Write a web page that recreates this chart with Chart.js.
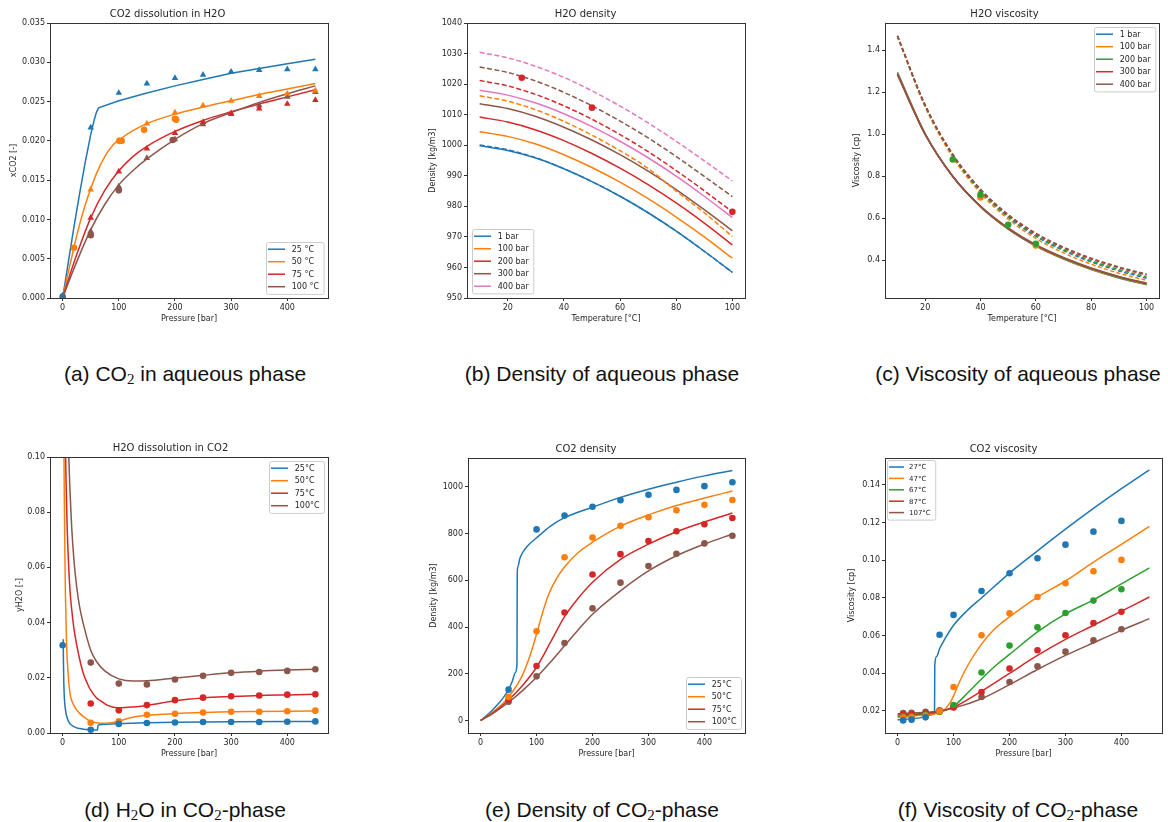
<!DOCTYPE html>
<html>
<head>
<meta charset="utf-8">
<script src="https://cdn.jsdelivr.net/npm/chart.js@4/dist/chart.umd.min.js"></script>
<style>
  html, body { margin: 0; padding: 0; background: #fff; }
  #page { position: relative; width: 1168px; height: 822px; overflow: hidden; }
  canvas { position: absolute; }
  .cap { position: absolute; transform: translate(-50%, -50%); font-family: "Liberation Sans", Arial, sans-serif;
         font-size: 21px; color: #111; white-space: nowrap; }
  .cap sub { font-family: "Liberation Serif", serif; font-size: 15px; vertical-align: -3px; line-height: 0; }
</style>
</head>
<body>
<div id="page">
  <canvas id="cA" width="327" height="320" style="left:7px;top:6px"></canvas>
  <canvas id="cB" width="325" height="320" style="left:426px;top:6px"></canvas>
  <canvas id="cC" width="315" height="320" style="left:850px;top:6px"></canvas>
  <canvas id="cD" width="321" height="321" style="left:13px;top:440px"></canvas>
  <canvas id="cE" width="324" height="320" style="left:427px;top:441px"></canvas>
  <canvas id="cF" width="322" height="320" style="left:845px;top:441px"></canvas>

  <div class="cap" style="left:185px;top:374px">(a) CO<sub>2</sub> in aqueous phase</div>
  <div class="cap" style="left:602px;top:374px">(b) Density of aqueous phase</div>
  <div class="cap" style="left:1018px;top:374px">(c) Viscosity of aqueous phase</div>
  <div class="cap" style="left:185px;top:810px">(d) H<sub>2</sub>O in CO<sub>2</sub>-phase</div>
  <div class="cap" style="left:602px;top:810px">(e) Density of CO<sub>2</sub>-phase</div>
  <div class="cap" style="left:1018px;top:810px">(f) Viscosity of CO<sub>2</sub>-phase</div>
</div>

<script>
// (a) CO2 dissolution in H2O -- [pressure, xCO2]
const aTempLabels = ['25 °C', '50 °C', '75 °C', '100 °C'];
const a25Line = [[0,0],[10,0.0045],[20,0.0090],[30,0.0132],[40,0.0172],[50,0.0208],[56,0.0226],[60,0.0236],[64,0.0242],[100,0.0251],[150,0.0261],[200,0.0270],[250,0.0278],[300,0.0286],[350,0.0292],[400,0.0298],[450,0.0304]];
const a50Line = [[0,0],[10,0.0033],[20,0.0064],[30,0.0093],[40,0.0118],[50,0.0139],[60,0.0158],[75,0.0180],[90,0.0195],[100,0.0201],[125,0.0213],[150,0.0222],[200,0.0234],[250,0.0243],[300,0.0251],[350,0.0259],[400,0.0266],[450,0.0273]];
const a75Line = [[0,0],[10,0.0023],[25,0.0055],[50,0.0102],[75,0.0137],[100,0.0162],[125,0.0180],[150,0.0193],[200,0.0212],[250,0.0226],[300,0.0237],[350,0.0247],[400,0.0256],[450,0.0265]];
const a100Line = [[0,0],[10,0.0019],[25,0.0046],[50,0.0087],[75,0.0119],[100,0.0144],[125,0.0162],[150,0.0177],[200,0.0202],[250,0.0222],[300,0.0236],[350,0.0249],[400,0.0260],[450,0.0270]];
const a25Tri = [[0,0.0003],[50,0.0217],[100,0.0261],[150,0.0273],[200,0.0280],[250,0.0284],[300,0.0288],[350,0.0290],[400,0.0291],[450,0.0291]];
const a50Tri = [[50,0.0138],[100,0.0200],[150,0.0222],[200,0.0236],[250,0.0245],[300,0.0251],[350,0.0257],[400,0.0260],[450,0.0264]];
const a50Dot = [[20,0.0064],[101,0.0200],[105,0.0200],[145,0.0214],[200,0.0228],[202,0.0227]];
const a75Tri = [[50,0.0102],[100,0.0161],[150,0.0190],[200,0.0210],[250,0.0224],[300,0.0235],[350,0.0241],[400,0.0247],[450,0.0252]];
const a100Tri = [[50,0.0085],[100,0.0142],[150,0.0178],[200,0.0202],[250,0.0221],[300,0.0234],[350,0.0245],[400,0.0256],[450,0.0262]];
const a100Dot = [[0,0.0002],[50,0.0080],[100,0.0137],[196,0.0201]];

// (b) H2O density -- temperatures and densities
const bTemps = [10, 20, 30, 40, 50, 60, 70, 80, 90, 100];
const bPressLabels = ['1 bar', '100 bar', '200 bar', '300 bar', '400 bar'];
const b1Solid = [999.8, 998.3, 995.8, 992.3, 988.1, 983.3, 977.9, 971.9, 965.3, 958.4];
const b100Solid = [1004.4, 1002.9, 1000.4, 996.9, 992.7, 987.9, 982.5, 976.5, 970.0, 963.0];
const b200Solid = [1009.2, 1007.6, 1005.0, 1001.5, 997.3, 992.5, 987.1, 981.1, 974.5, 967.4];
const b300Solid = [1013.6, 1012.0, 1009.4, 1005.9, 1001.7, 996.9, 991.5, 985.5, 978.9, 972.0];
const b400Solid = [1018.0, 1016.4, 1013.8, 1010.3, 1006.1, 1001.3, 995.9, 989.9, 983.3, 976.3];
const b1Dash = [1000.1, 998.5, 995.9, 992.3, 988.1, 983.3, 977.9, 971.9, 965.3, 958.4];
const b100Dash = [1016.2, 1014.4, 1011.6, 1007.8, 1003.3, 998.2, 992.4, 985.0, 977.9, 970.1];
const b200Dash = [1021.2, 1019.4, 1016.6, 1012.9, 1008.5, 1003.5, 997.9, 991.7, 985.1, 978.2];
const b300Dash = [1025.6, 1023.8, 1021.0, 1017.3, 1012.9, 1007.9, 1002.4, 996.3, 989.8, 983.2];
const b400Dash = [1030.4, 1028.6, 1025.8, 1022.2, 1017.8, 1012.8, 1007.3, 1001.3, 994.9, 988.3];
const bDots = [[25,1022.1],[50,1012.3],[100,978.2]];

// (c) H2O viscosity -- same temperatures
const c1Solid = [1.295, 1.003, 0.798, 0.654, 0.548, 0.467, 0.405, 0.355, 0.315, 0.283];
const c100Solid = [1.292, 1.002, 0.798, 0.655, 0.549, 0.469, 0.407, 0.357, 0.317, 0.285];
const c200Solid = [1.289, 1.001, 0.799, 0.656, 0.551, 0.471, 0.409, 0.359, 0.319, 0.287];
const c300Solid = [1.286, 1.000, 0.799, 0.657, 0.552, 0.472, 0.411, 0.361, 0.321, 0.289];
const c400Solid = [1.283, 0.999, 0.800, 0.658, 0.554, 0.474, 0.413, 0.363, 0.323, 0.291];
const c1Dash = [1.468, 1.135, 0.897, 0.728, 0.605, 0.514, 0.446, 0.392, 0.349, 0.314];
const c100Dash = [1.466, 1.130, 0.890, 0.720, 0.596, 0.504, 0.435, 0.381, 0.338, 0.304];
const c200Dash = [1.467, 1.136, 0.899, 0.731, 0.609, 0.519, 0.451, 0.398, 0.356, 0.321];
const c300Dash = [1.468, 1.139, 0.903, 0.736, 0.615, 0.526, 0.458, 0.406, 0.364, 0.330];
const c400Dash = [1.469, 1.140, 0.905, 0.739, 0.618, 0.529, 0.462, 0.410, 0.368, 0.334];
const cGreenDots = [[30,0.880],[40,0.712],[50,0.569],[60,0.478]];
const cOrangeDots = [[40,0.699],[60,0.470]];

// (d) H2O dissolution in CO2 -- [pressure, yH2O]
const dTempLabels = ['25°C', '50°C', '75°C', '100°C'];
const d25Line = [[1,0.034],[1.5,0.025],[2,0.019],[3,0.013],[5,0.0085],[8,0.0055],[12,0.0037],[20,0.0023],[30,0.0016],[40,0.0013],[50,0.0011],[62,0.0011],[63,0.0028],[70,0.0031],[100,0.0034],[150,0.0037],[200,0.0039],[300,0.0041],[450,0.0042]];
const d50Line = [[2.4,0.10],[3,0.085],[4,0.065],[5,0.050],[7,0.032],[10,0.021],[13,0.0145],[20,0.0100],[30,0.0072],[40,0.0055],[50,0.0043],[60,0.0037],[75,0.0035],[90,0.0038],[100,0.0043],[125,0.0057],[150,0.0064],[200,0.0070],[250,0.0074],[300,0.0077],[350,0.0078],[400,0.0079],[450,0.0080]];
const d75Line = [[5.3,0.10],[6,0.092],[8,0.075],[10,0.064],[13,0.052],[16,0.045],[20,0.038],[25,0.032],[30,0.027],[37,0.0215],[45,0.0175],[50,0.0155],[60,0.0128],[66,0.0119],[80,0.0100],[100,0.0091],[125,0.0094],[150,0.0100],[200,0.0117],[250,0.0127],[300,0.0132],[350,0.0136],[400,0.0138],[450,0.0140]];
const d100Line = [[11,0.10],[13,0.088],[16,0.075],[20,0.063],[25,0.053],[30,0.046],[40,0.037],[50,0.030],[60,0.026],[75,0.0225],[100,0.0196],[125,0.0188],[150,0.0189],[200,0.0199],[250,0.0209],[300,0.0218],[350,0.0224],[400,0.0228],[450,0.0231]];
const d25Dots = [[0,0.0318],[50,0.0012],[100,0.0033],[150,0.0036],[200,0.0038],[250,0.0040],[300,0.0040],[350,0.0040],[400,0.0041],[450,0.0042]];
const d50Dots = [[50,0.0037],[100,0.0042],[150,0.0066],[200,0.0070],[250,0.0074],[300,0.0077],[350,0.0077],[400,0.0079],[450,0.0081]];
const d75Dots = [[50,0.0107],[100,0.0082],[150,0.0101],[200,0.0119],[250,0.0128],[300,0.0133],[350,0.0136],[400,0.0139],[450,0.0140]];
const d100Dots = [[50,0.0255],[100,0.0179],[150,0.0176],[200,0.0194],[250,0.0207],[300,0.0218],[350,0.0221],[400,0.0225],[450,0.0231]];

// (e) CO2 density -- [pressure, kg/m3]
const e25Line = [[0,0],[10,20],[20,42],[30,67],[40,96],[50,132],[57,170],[62,205],[65,240],[65.5,630],[67,660],[70,692],[75,718],[83,745],[100,782],[125,832],[150,868],[200,913],[250,955],[300,990],[350,1020],[400,1047],[450,1070]];
const e50Line = [[0,0],[25,42],[50,100],[75,195],[90,290],[100,370],[110,455],[120,530],[135,605],[150,657],[175,720],[200,763],[250,832],[300,880],[350,920],[400,952],[450,982]];
const e75Line = [[0,0],[25,38],[50,88],[75,150],[100,228],[125,335],[150,445],[175,525],[200,592],[250,690],[300,755],[350,808],[400,850],[450,888]];
const e100Line = [[0,0],[25,35],[50,78],[75,128],[100,185],[125,250],[150,320],[175,390],[200,455],[250,555],[300,640],[350,705],[400,755],[450,798]];
const e25Dots = [[50,132],[100,818],[150,877],[200,915],[250,943],[300,966],[350,987],[400,1003],[450,1020]];
const e50Dots = [[50,101],[100,382],[150,699],[200,783],[250,833],[300,870],[350,900],[400,923],[450,944]];
const e75Dots = [[50,90],[100,233],[150,462],[200,625],[250,712],[300,768],[350,810],[400,840],[450,867]];
const e100Dots = [[50,80],[100,189],[150,332],[200,480],[250,590],[300,661],[350,714],[400,758],[450,791]];

// (f) CO2 viscosity -- [pressure, cp]
const fTempLabels = ['27°C', '47°C', '67°C', '87°C', '107°C'];
const f27Line = [[0,0.0153],[25,0.0158],[50,0.0170],[60,0.0180],[66,0.0195],[66.5,0.0446],[70,0.0490],[75,0.0530],[85,0.0585],[100,0.0655],[125,0.0735],[150,0.0800],[200,0.0932],[250,0.1050],[300,0.1165],[350,0.1275],[400,0.1380],[450,0.1480]];
const f47Line = [[0,0.0165],[50,0.0180],[75,0.0190],[85,0.0210],[95,0.0250],[100,0.0280],[110,0.0350],[125,0.0440],[150,0.0555],[175,0.0640],[200,0.0700],[250,0.0805],[300,0.0890],[350,0.0990],[400,0.1085],[450,0.1180]];
const f67Line = [[0,0.0172],[50,0.0185],[75,0.0195],[100,0.0225],[125,0.0295],[150,0.0370],[175,0.0440],[200,0.0500],[250,0.0620],[300,0.0715],[350,0.0790],[400,0.0875],[450,0.0960]];
const f87Line = [[0,0.0178],[50,0.0188],[75,0.0198],[100,0.0220],[125,0.0260],[150,0.0305],[200,0.0400],[250,0.0495],[300,0.0580],[350,0.0655],[400,0.0730],[450,0.0805]];
const f107Line = [[0,0.0185],[50,0.0193],[75,0.0200],[100,0.0215],[150,0.0265],[200,0.0340],[250,0.0420],[300,0.0495],[350,0.0562],[400,0.0628],[450,0.0690]];
const f27Dots = [[10,0.0150],[25,0.0154],[50,0.0166],[75,0.0605],[100,0.0710],[150,0.0837],[200,0.0931],[250,0.1011],[300,0.1083],[350,0.1152],[400,0.1209]];
const f47Dots = [[10,0.0165],[25,0.0167],[50,0.0175],[75,0.0198],[100,0.0327],[150,0.0602],[200,0.0719],[250,0.0805],[300,0.0878],[350,0.0942],[400,0.1002]];
const f67Dots = [[10,0.0172],[25,0.0173],[50,0.0180],[75,0.0195],[100,0.0232],[150,0.0404],[200,0.0547],[250,0.0644],[300,0.0720],[350,0.0786],[400,0.0846]];
const f87Dots = [[10,0.0180],[25,0.0181],[50,0.0188],[75,0.0199],[100,0.0218],[150,0.0301],[200,0.0425],[250,0.0522],[300,0.0602],[350,0.0667],[400,0.0727]];
const f107Dots = [[10,0.0189],[25,0.0190],[50,0.0195],[75,0.0203],[100,0.0221],[150,0.0274],[200,0.0354],[250,0.0437],[300,0.0515],[350,0.0575],[400,0.0634]];

// tick labels
const pressTicks = [0, 100, 200, 300, 400];
const tempTicks = [20, 40, 60, 80, 100];

const FONT = '"DejaVu Sans", sans-serif';
const TXT = '#262626';
const C = { blue: '#1f77b4', orange: '#ff7f0e', green: '#2ca02c', red: '#d62728', brown: '#8c564b', pink: '#e377c2' };

const pts = arr => arr.map(([x, y]) => ({ x, y }));
const withT = vals => vals.map((v, i) => [bTemps[i], v]);

let ord = 100;
function curve(data, color, label, dash, straight) {
  const ds = {
    label: label || '', data: pts(data), borderColor: color, backgroundColor: color,
    borderWidth: 1.5, borderDash: dash || [], pointRadius: 0, showLine: true, order: ord--
  };
  if (!straight) ds.cubicInterpolationMode = 'monotone';
  return ds;
}
function marks(data, color, style) {
  return {
    label: '', data: pts(data), showLine: false, pointStyle: style || 'circle',
    pointRadius: style === 'triangle' ? 3.8 : 3.3, pointBackgroundColor: color,
    pointBorderColor: color, pointBorderWidth: 0, order: 0
  };
}

function axis(min, max, ticks, fmt, title, size, isX) {
  return {
    type: 'linear', min, max,
    afterBuildTicks: s => { s.ticks = ticks.map(v => ({ value: v })); },
    afterFit: s => { if (isX) s.height = size; else s.width = size; },
    ticks: { callback: v => fmt(v), font: { family: FONT, size: 8 }, color: TXT, padding: 2, autoSkip: false, maxRotation: 0 },
    grid: { drawOnChartArea: false, drawTicks: true, tickLength: 3, color: '#333', tickWidth: 1 },
    border: { display: true, color: '#333', width: 1 },
    title: { display: true, text: title, font: { family: FONT, size: 8, lineHeight: 1.25 }, color: TXT, padding: { top: 2, bottom: 2 } }
  };
}

// matplotlib-like frame and legend inside the axes
const mplLegend = {
  id: 'mplLegend',
  afterDatasetsDraw(chart, args, o) {
    const ca = chart.chartArea, ctx = chart.ctx;
    ctx.save();
    ctx.strokeStyle = '#333';
    ctx.lineWidth = 1;
    const l = Math.round(ca.left) + 0.5, t = Math.round(ca.top) + 0.5;
    const r = Math.round(ca.right) + 0.5, b = Math.round(ca.bottom) + 0.5;
    ctx.strokeRect(l, t, r - l, b - t);

    const items = chart.data.datasets.filter(d => d.label);
    if (o.loc && items.length) {
      ctx.font = o.size + 'px ' + FONT;
      const tw = Math.max(...items.map(d => ctx.measureText(d.label).width));
      const w = o.padL + o.lineLen + o.gap + tw + o.padR;
      const h = 2 * o.padV + o.rowH * (items.length - 1);
      const x = Math.round(o.loc[1] === 'r' ? ca.right - o.margin - w : ca.left + o.margin);
      const y = Math.round(o.loc[0] === 'l' ? ca.bottom - o.margin - h : ca.top + o.margin);
      ctx.beginPath();
      ctx.roundRect(x + 0.5, y + 0.5, w, h, 2);
      ctx.fillStyle = 'rgba(255,255,255,0.8)';
      ctx.fill();
      ctx.strokeStyle = '#cccccc';
      ctx.stroke();
      items.forEach((d, i) => {
        const cy = y + o.padV + i * o.rowH;
        ctx.beginPath();
        ctx.moveTo(x + o.padL, cy);
        ctx.lineTo(x + o.padL + o.lineLen, cy);
        ctx.strokeStyle = d.borderColor;
        ctx.lineWidth = 1.5;
        ctx.stroke();
        ctx.fillStyle = TXT;
        ctx.textBaseline = 'middle';
        ctx.textAlign = 'left';
        ctx.fillText(d.label, x + o.padL + o.lineLen + o.gap, cy + 0.5);
      });
    }
    ctx.restore();
  }
};

function legendOpts(loc, extra) {
  return Object.assign({ loc, size: 8, padL: 2, lineLen: 17, gap: 6.7, padR: 4.5, padV: 7.2, rowH: 12.5, margin: 4 }, extra || {});
}

function draw(id, title, xScale, yScale, datasets, legend, right) {
  new Chart(document.getElementById(id), {
    type: 'scatter',
    data: { datasets },
    options: {
      responsive: false,
      animation: false,
      devicePixelRatio: 1,
      layout: { padding: { top: 2, right: right, bottom: 0, left: 0 } },
      scales: { x: xScale, y: yScale },
      plugins: {
        legend: { display: false },
        tooltip: { enabled: false },
        title: { display: true, text: title, color: TXT, font: { family: FONT, size: 10, weight: 'normal', lineHeight: 1.2 }, padding: { top: 0, bottom: 3 } },
        mplLegend: legend
      }
    },
    plugins: [mplLegend]
  });
}

const f0 = v => String(v);
const f1 = v => v.toFixed(1);
const f2 = v => v.toFixed(2);
const f3 = v => v.toFixed(3);

// (a)
draw('cA', 'CO2 dissolution in H2O',
  axis(-22.5, 472.5, pressTicks, f0, 'Pressure [bar]', 28, true),
  axis(0, 0.035, [0, 0.005, 0.01, 0.015, 0.02, 0.025, 0.03, 0.035], f3, 'xCO2 [-]', 43, false),
  [
    marks(a25Tri, C.blue, 'triangle'), marks(a50Tri, C.orange, 'triangle'), marks(a50Dot, C.orange),
    marks(a75Tri, C.red, 'triangle'), marks(a100Tri, C.brown, 'triangle'), marks(a100Dot, C.brown),
    curve(a25Line, C.blue, aTempLabels[0], null, true), curve(a50Line, C.orange, aTempLabels[1]),
    curve(a75Line, C.red, aTempLabels[2]), curve(a100Line, C.brown, aTempLabels[3])
  ],
  legendOpts('lr'), 6);

// (b)
draw('cB', 'H2O density',
  axis(5.5, 104.5, tempTicks, f0, 'Temperature [°C]', 28, true),
  axis(950, 1040, [950, 960, 970, 980, 990, 1000, 1010, 1020, 1030, 1040], f0, 'Density [kg/m3]', 41, false),
  [
    marks(bDots, C.red),
    curve(withT(b1Solid), C.blue, bPressLabels[0]), curve(withT(b100Solid), C.orange, bPressLabels[1]),
    curve(withT(b200Solid), C.red, bPressLabels[2]), curve(withT(b300Solid), C.brown, bPressLabels[3]),
    curve(withT(b400Solid), C.pink, bPressLabels[4]),
    curve(withT(b1Dash), C.blue, '', [5, 2.5]), curve(withT(b100Dash), C.orange, '', [5, 2.5]),
    curve(withT(b200Dash), C.red, '', [5, 2.5]), curve(withT(b300Dash), C.brown, '', [5, 2.5]),
    curve(withT(b400Dash), C.pink, '', [5, 2.5])
  ],
  legendOpts('ll', { margin: 5 }), 6);

// (c)
draw('cC', 'H2O viscosity',
  axis(5.5, 104.5, tempTicks, f0, 'Temperature [°C]', 28, true),
  axis(0.22, 1.53, [0.4, 0.6, 0.8, 1.0, 1.2, 1.4], f1, 'Viscosity [cp]', 35, false),
  [
    marks(cGreenDots, C.green), marks(cOrangeDots, C.orange),
    curve(withT(c1Solid), C.blue, bPressLabels[0]), curve(withT(c100Solid), C.orange, bPressLabels[1]),
    curve(withT(c200Solid), C.green, bPressLabels[2]), curve(withT(c300Solid), C.red, bPressLabels[3]),
    curve(withT(c400Solid), C.brown, bPressLabels[4]),
    curve(withT(c1Dash), C.blue, '', [4, 2.5]), curve(withT(c100Dash), C.orange, '', [4, 2.5]),
    curve(withT(c200Dash), C.green, '', [4, 2.5]), curve(withT(c300Dash), C.red, '', [4, 2.5]),
    curve(withT(c400Dash), C.brown, '', [4, 2.5])
  ],
  legendOpts('ur'), 6);

// (d)
draw('cD', 'H2O dissolution in CO2',
  axis(-22.5, 472.5, pressTicks, f0, 'Pressure [bar]', 28, true),
  axis(0, 0.1, [0, 0.02, 0.04, 0.06, 0.08, 0.1], f2, 'yH2O [-]', 37, false),
  [
    marks(d25Dots, C.blue), marks(d50Dots, C.orange), marks(d75Dots, C.red), marks(d100Dots, C.brown),
    curve(d25Line, C.blue, dTempLabels[0]), curve(d50Line, C.orange, dTempLabels[1]),
    curve(d75Line, C.red, dTempLabels[2]), curve(d100Line, C.brown, dTempLabels[3])
  ],
  legendOpts('ur'), 6);

// (e)
draw('cE', 'CO2 density',
  axis(-22.5, 472.5, pressTicks, f0, 'Pressure [bar]', 28, true),
  axis(-53.5, 1123.5, [0, 200, 400, 600, 800, 1000], f0, 'Density [kg/m3]', 41, false),
  [
    marks(e25Dots, C.blue), marks(e50Dots, C.orange), marks(e75Dots, C.red), marks(e100Dots, C.brown),
    curve(e25Line, C.blue, dTempLabels[0]), curve(e50Line, C.orange, dTempLabels[1]),
    curve(e75Line, C.red, dTempLabels[2]), curve(e100Line, C.brown, dTempLabels[3])
  ],
  legendOpts('lr'), 6);

// (f)
draw('cF', 'CO2 viscosity',
  axis(-22.5, 472.5, pressTicks, f0, 'Pressure [bar]', 28, true),
  axis(0.0083, 0.1543, [0.02, 0.04, 0.06, 0.08, 0.10, 0.12, 0.14], f2, 'Viscosity [cp]', 40, false),
  [
    marks(f27Dots, C.blue), marks(f47Dots, C.orange), marks(f67Dots, C.green), marks(f87Dots, C.red), marks(f107Dots, C.brown),
    curve(f27Line, C.blue, fTempLabels[0]), curve(f47Line, C.orange, fTempLabels[1]),
    curve(f67Line, C.green, fTempLabels[2]), curve(f87Line, C.red, fTempLabels[3]),
    curve(f107Line, C.brown, fTempLabels[4])
  ],
  legendOpts('ul', { size: 7, lineLen: 15, gap: 5, padV: 7, rowH: 11.4, margin: 2 }), 5);
</script>
</body>
</html>
